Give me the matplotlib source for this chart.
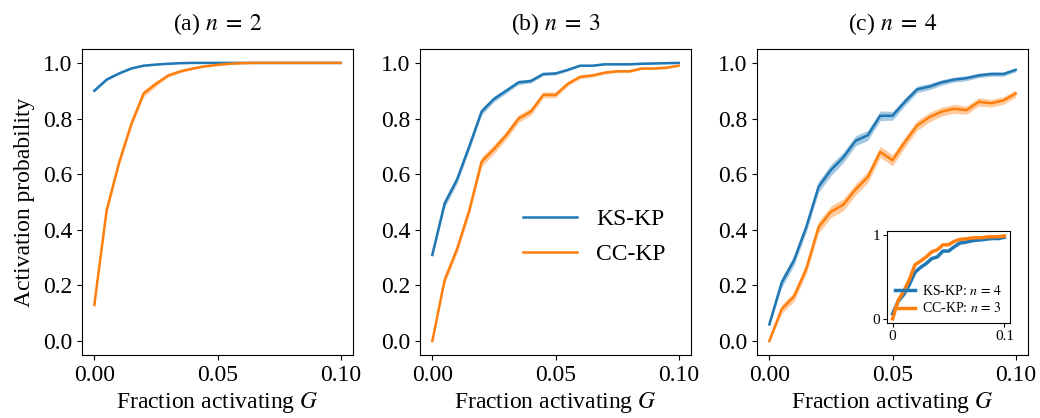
import numpy as np
import matplotlib
matplotlib.use("Agg")
import matplotlib.pyplot as plt

plt.rcParams["font.family"] = ["Liberation Serif", "DejaVu Serif"]
plt.rcParams["mathtext.fontset"] = "stix"

# fraction activating G (same grid for every panel)
G = [0.000, 0.005, 0.010, 0.015, 0.020, 0.025, 0.030, 0.035, 0.040, 0.045, 0.050,
     0.055, 0.060, 0.065, 0.070, 0.075, 0.080, 0.085, 0.090, 0.095, 0.100]

# (a) n = 2
ks_n2 = [0.90, 0.94, 0.962, 0.98, 0.99, 0.994, 0.997, 0.999, 1.0, 1.0, 1.0,
         1.0, 1.0, 1.0, 1.0, 1.0, 1.0, 1.0, 1.0, 1.0, 1.0]
cc_n2 = [0.13, 0.47, 0.64, 0.78, 0.89, 0.925, 0.955, 0.97, 0.98, 0.988, 0.993,
         0.997, 0.999, 1.0, 1.0, 1.0, 1.0, 1.0, 1.0, 1.0, 1.0]
ks_n2_err = [0.004, 0.004, 0.003, 0.003, 0.002, 0.002, 0.001, 0.001, 0.0, 0.0, 0.0,
             0.0, 0.0, 0.0, 0.0, 0.0, 0.0, 0.0, 0.0, 0.0, 0.0]
cc_n2_err = [0.006, 0.012, 0.012, 0.010, 0.012, 0.009, 0.006, 0.005, 0.004, 0.003, 0.002,
             0.002, 0.001, 0.0, 0.0, 0.0, 0.0, 0.0, 0.0, 0.0, 0.0]

# (b) n = 3
ks_n3 = [0.31, 0.495, 0.58, 0.70, 0.825, 0.87, 0.90, 0.93, 0.935, 0.96, 0.962,
         0.975, 0.99, 0.99, 0.995, 0.995, 0.995, 0.997, 0.998, 0.999, 1.0]
cc_n3 = [0.0, 0.22, 0.33, 0.47, 0.645, 0.69, 0.74, 0.80, 0.825, 0.885, 0.885,
         0.925, 0.95, 0.955, 0.965, 0.97, 0.97, 0.98, 0.98, 0.983, 0.99]
ks_n3_err = [0.008, 0.015, 0.014, 0.013, 0.012, 0.010, 0.009, 0.008, 0.007, 0.006, 0.005,
             0.004, 0.003, 0.003, 0.002, 0.002, 0.002, 0.002, 0.001, 0.001, 0.001]
cc_n3_err = [0.002, 0.014, 0.015, 0.016, 0.018, 0.016, 0.015, 0.014, 0.013, 0.011, 0.010,
             0.008, 0.007, 0.006, 0.005, 0.005, 0.005, 0.004, 0.004, 0.004, 0.003]

# (c) n = 4
ks_n4 = [0.06, 0.21, 0.29, 0.41, 0.555, 0.615, 0.66, 0.72, 0.74, 0.81, 0.81,
         0.86, 0.905, 0.915, 0.93, 0.94, 0.945, 0.955, 0.96, 0.96, 0.975]
cc_n4 = [0.0, 0.115, 0.16, 0.26, 0.41, 0.465, 0.49, 0.545, 0.59, 0.68, 0.65,
         0.715, 0.775, 0.805, 0.825, 0.835, 0.83, 0.86, 0.855, 0.865, 0.89]
ks_n4_err = [0.008, 0.018, 0.018, 0.018, 0.020, 0.020, 0.019, 0.018, 0.018, 0.017, 0.016,
             0.014, 0.012, 0.011, 0.010, 0.009, 0.009, 0.008, 0.008, 0.008, 0.007]
cc_n4_err = [0.003, 0.016, 0.017, 0.019, 0.021, 0.021, 0.021, 0.021, 0.020, 0.020, 0.020,
             0.019, 0.018, 0.017, 0.016, 0.016, 0.015, 0.015, 0.014, 0.014, 0.013]

panels = [
    (r"(a) $n\;=\;2$", ks_n2, ks_n2_err, cc_n2, cc_n2_err),
    (r"(b) $n\;=\;3$", ks_n3, ks_n3_err, cc_n3, cc_n3_err),
    (r"(c) $n\;=\;4$", ks_n4, ks_n4_err, cc_n4, cc_n4_err),
]

BLUE = "#1f77b4"
ORANGE = "#ff7f0e"
FS = 17

fig = plt.figure(figsize=(10.4, 4.18), dpi=100)
lefts = [82, 420, 757]
axes = []
for i, (title, ks, ks_e, cc, cc_e) in enumerate(panels):
    ax = fig.add_axes([lefts[i] / 1040, 1 - 355 / 418, 271 / 1040, 306 / 418])
    x = np.array(G)
    for y, e, c, lab in [(ks, ks_e, BLUE, "KS-KP"), (cc, cc_e, ORANGE, "CC-KP")]:
        y = np.array(y)
        e = np.array(e)
        ax.fill_between(x, y - e, y + e, color=c, alpha=0.4, lw=0)
        ax.plot(x, y, color=c, lw=1.8, label=lab)
    ax.set_xlim(-0.005, 0.105)
    ax.set_ylim(-0.05, 1.05)
    ax.set_xticks([0.0, 0.05, 0.10])
    ax.set_xticklabels(["0.00", "0.05", "0.10"])
    ax.set_yticks([0.0, 0.2, 0.4, 0.6, 0.8, 1.0])
    ax.set_yticklabels(["0.0", "0.2", "0.4", "0.6", "0.8", "1.0"])
    ax.tick_params(labelsize=FS)
    ax.set_title(title, fontsize=FS, pad=14)
    ax.set_xlabel("Fraction activating $G$", fontsize=FS, labelpad=3)
    axes.append(ax)

axes[0].set_ylabel("Activation probability", fontsize=FS, labelpad=6)
axes[1].legend(loc="center left", bbox_to_anchor=(0.38, 0.386), frameon=False,
               fontsize=FS, borderpad=0, borderaxespad=0, handlelength=2.3,
               labelspacing=0.55, handletextpad=0.8)

# inset: KS-KP n=4 vs CC-KP n=3
ins = fig.add_axes([887 / 1040, 1 - 323 / 418, 123 / 1040, 92 / 418])
ins.plot(G, ks_n4, color=BLUE, lw=2.5, label=r"KS-KP: $n\,=\,4$")
ins.plot(G, cc_n3, color=ORANGE, lw=2.5, label=r"CC-KP: $n\,=\,3$")
ins.set_xlim(-0.005, 0.105)
ins.set_ylim(-0.05, 1.05)
ins.set_xticks([0, 0.1])
ins.set_xticklabels(["0", "0.1"])
ins.set_yticks([0, 1])
ins.set_yticklabels(["0", "1"])
ins.tick_params(labelsize=11, length=3, pad=2)
ins.legend(loc="lower right", frameon=False, fontsize=10, handlelength=1.5,
           borderaxespad=0.15, labelspacing=0.25, handletextpad=0.5)

fig.savefig("out.png", dpi=100)
